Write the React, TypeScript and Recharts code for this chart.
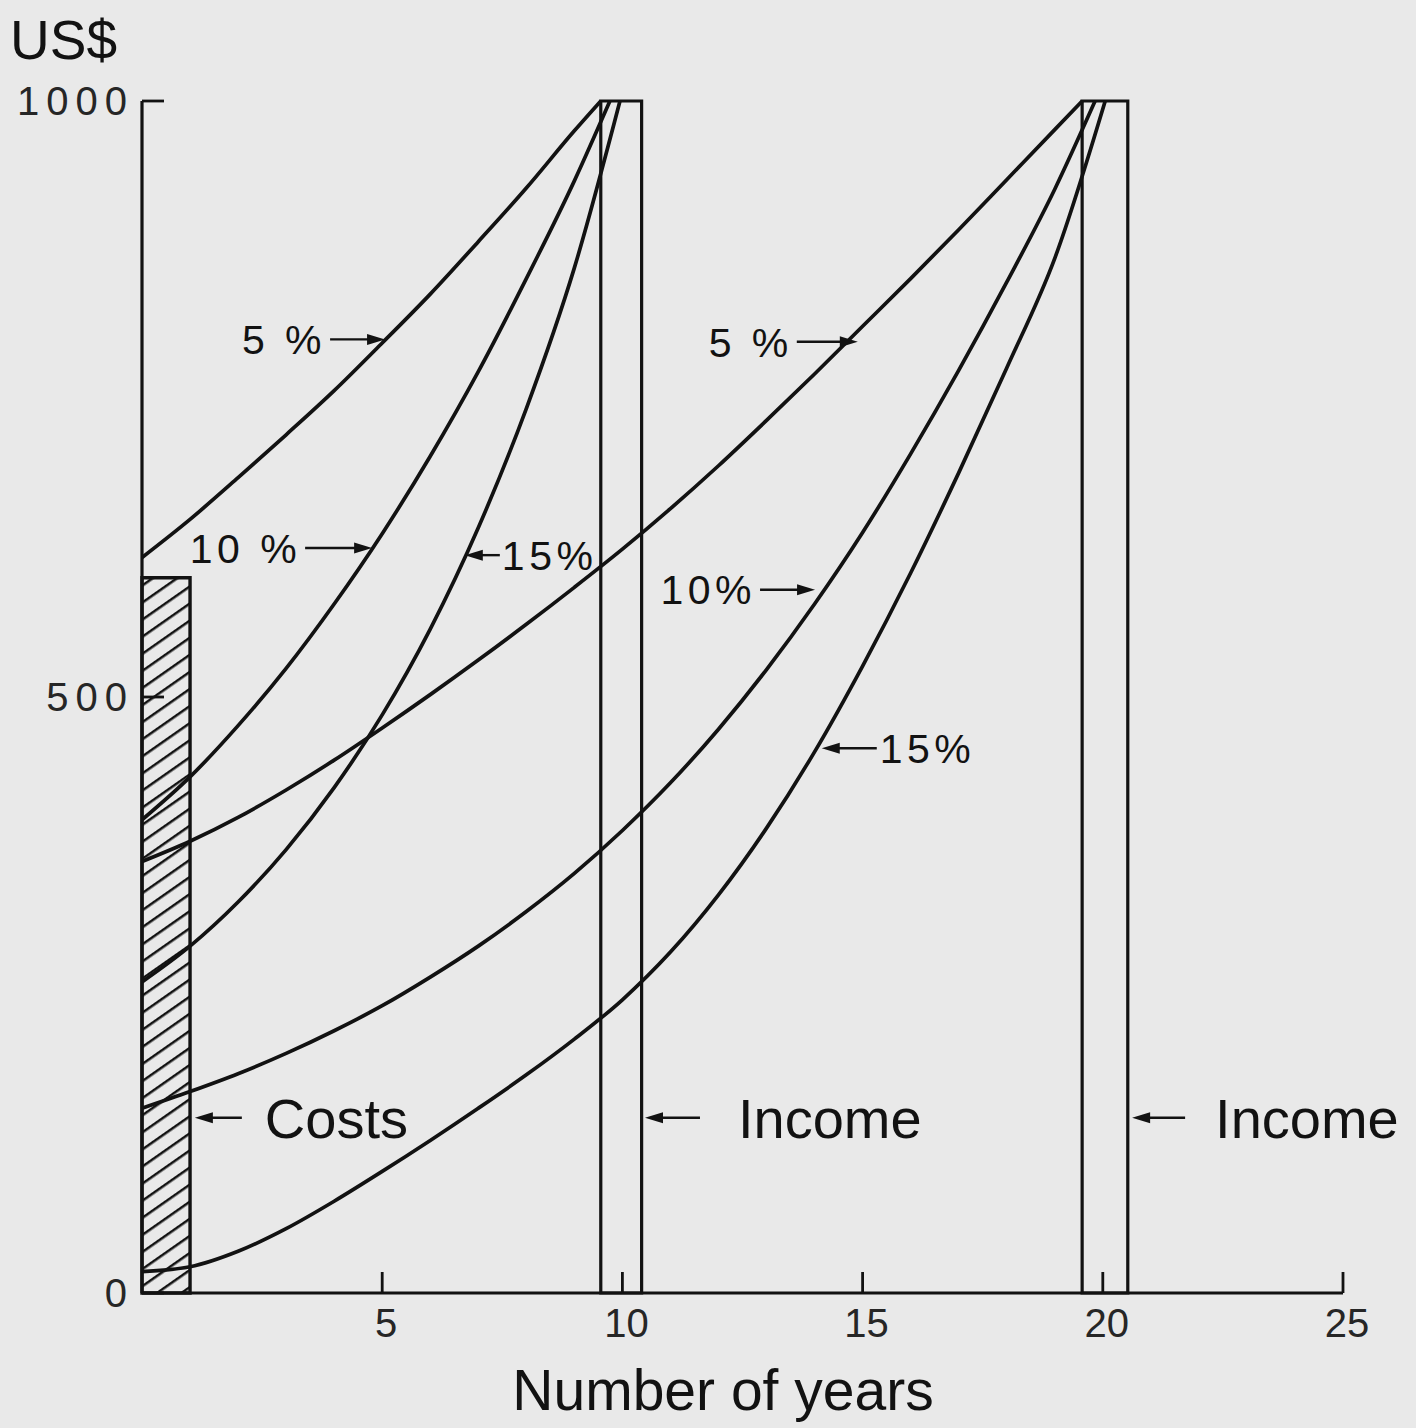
import { Line, LineChart, ReferenceArea, ReferenceDot, XAxis, YAxis } from "recharts";

const FONT = '"Liberation Sans", Arial, Helvetica, sans-serif';
const INK = "#121212";

// axis ticks
const xTicks = [5, 10, 15, 20, 25];
const yTicks = [0, 500, 1000];

// value of 1000 received after ~10 years
const years10at5 = [0, 1, 2, 3, 4, 5, 6, 7, 8, 9, 9.55];
const value10at5 = [617, 649, 684, 720, 757, 797, 838, 882, 927, 975, 1000];
const years10at10 = [0, 1, 2, 3, 4, 5, 6, 7, 8, 9, 9.74];
const value10at10 = [397, 433, 476, 524, 578, 637, 702, 773, 851, 933, 1000];
const years10at15 = [0, 1, 2, 3, 4, 5, 6, 7, 8, 9, 9.95];
const value10at15 = [261, 291, 328, 372, 424, 485, 557, 642, 742, 860, 1000];

// value of 1000 received after ~20 years
const years20at5 = [0, 1, 2, 3, 4, 5, 6, 7, 8, 9, 10, 11, 12, 13, 14, 15, 16, 17, 18, 19, 19.57];
const value20at5 = [362, 379, 399, 422, 447, 474, 502, 531, 561, 592, 624, 658, 694, 732, 771, 811, 851, 892, 934, 976, 1000];
const years20at10 = [0, 1, 2, 3, 4, 5, 6, 7, 8, 9, 10, 11, 12, 13, 14, 15, 16, 17, 18, 19, 19.84];
const value20at10 = [155, 169, 184, 201, 220, 241, 265, 291, 320, 352, 388, 428, 473, 523, 578, 638, 704, 774, 848, 926, 1000];
const years20at15 = [0, 1, 2, 3, 4, 5, 6, 7, 8, 9, 10, 11, 12, 13, 14, 15, 16, 17, 18, 19, 20.05];
const value20at15 = [18, 22, 35, 54, 77, 102, 128, 155, 183, 213, 246, 286, 334, 390, 454, 526, 604, 688, 776, 868, 1000];

// bars: costs and the two incomes
const costsSpan = [0, 1];
const costsValue = 600;
const incomeSpans = [
  [9.55, 10.4],
  [19.57, 20.52],
];
const incomeValue = 1000;

// annotations (text, year and value the arrow points at)
const noteText = ["5 %", "10 %", "15%", "5 %", "10%", "15%", "Costs", "Income", "Income"];
const noteYear = [5.06, 4.79, 6.72, 14.9, 14.01, 14.15, 1.1, 10.47, 20.61];
const noteValue = [800, 625, 619, 798, 590, 457, 147, 147, 147];

const toPoints = (xs: number[], ys: number[]) => xs.map((x, i) => ({ x, v: ys[i] }));

const series = [
  toPoints(years10at5, value10at5),
  toPoints(years10at10, value10at10),
  toPoints(years10at15, value10at15),
  toPoints(years20at5, value20at5),
  toPoints(years20at10, value20at10),
  toPoints(years20at15, value20at15),
];

// arrow direction / lengths per note (drawing only)
const noteStyle = [
  { dir: "right", len: 55, gap: 4, size: 41 },
  { dir: "right", len: 67, gap: 4, size: 41 },
  { dir: "left", len: 35, gap: 2, size: 41 },
  { dir: "right", len: 61, gap: 4, size: 41 },
  { dir: "right", len: 55, gap: 4, size: 41 },
  { dir: "left", len: 55, gap: 3, size: 41 },
  { dir: "left", len: 47, gap: 23, size: 56 },
  { dir: "left", len: 55, gap: 38, size: 56 },
  { dir: "left", len: 53, gap: 30, size: 56 },
];

function note(i: number) {
  const st = noteStyle[i];
  return (props: any) => {
    const { cx, cy } = props;
    const s = st.dir === "right" ? -1 : 1;
    const tail = cx + s * st.len;
    const big = st.size > 45;
    return (
      <g>
        <line x1={cx + s * 12} y1={cy} x2={tail} y2={cy} stroke={INK} strokeWidth={2.4} />
        <polygon
          points={`${cx},${cy} ${cx + s * 18},${cy - 5.5} ${cx + s * 18},${cy + 5.5}`}
          fill={INK}
        />
        <text
          x={tail + s * st.gap}
          y={cy + st.size * 0.36}
          textAnchor={st.dir === "right" ? "end" : "start"}
          fontFamily={FONT}
          fontSize={st.size}
          letterSpacing={big ? 0 : 4.5}
          fill={INK}
        >
          {noteText[i]}
        </text>
      </g>
    );
  };
}

const XTick = (props: any) => {
  const { x, y, payload } = props;
  return (
    <g>
      <line x1={x} y1={y} x2={x} y2={y - 21} stroke={INK} strokeWidth={2.8} />
      <text x={x + 4} y={y + 44} textAnchor="middle" fontFamily={FONT} fontSize={40} fill="#262626">
        {payload.value}
      </text>
    </g>
  );
};

const YTick = (props: any) => {
  const { x, y, payload } = props;
  return (
    <g>
      <line x1={x} y1={y} x2={x + 22} y2={y} stroke={INK} strokeWidth={2.8} />
      <text
        x={x - 8}
        y={y + 14}
        textAnchor="end"
        fontFamily={FONT}
        fontSize={40}
        letterSpacing={7}
        fill="#262626"
      >
        {payload.value}
      </text>
    </g>
  );
};

export default function App() {
  return (
    <div
      style={{
        position: "absolute",
        left: 0,
        top: 0,
        width: 1416,
        height: 1428,
        background: "#e9e9e9",
      }}
    >
      <LineChart width={1416} height={1428} margin={{ top: 101, right: 73, bottom: 35, left: 12 }}>
        <defs>
          <pattern
            id="hatch"
            patternUnits="userSpaceOnUse"
            width={14}
            height={14}
            patternTransform="rotate(55)"
          >
            <line x1={1} y1={0} x2={1} y2={14} stroke={INK} strokeWidth={3} />
          </pattern>
        </defs>
        <XAxis
          type="number"
          dataKey="x"
          domain={[0, 25]}
          ticks={xTicks}
          height={100}
          axisLine={{ stroke: INK, strokeWidth: 3.2 }}
          tickLine={false}
          tickSize={0}
          tickMargin={0}
          tick={XTick}
          label={{
            content: () => (
              <text x={723} y={1410} textAnchor="middle" fontFamily={FONT} fontSize={57} fill={INK}>
                Number of years
              </text>
            ),
          }}
        />
        <YAxis
          type="number"
          domain={[0, 1000]}
          ticks={yTicks}
          width={130}
          axisLine={{ stroke: INK, strokeWidth: 3.2 }}
          tickLine={false}
          tickSize={0}
          tickMargin={0}
          tick={YTick}
          label={{
            content: () => (
              <text x={10} y={59} fontFamily={FONT} fontSize={55} fill={INK}>
                US$
              </text>
            ),
          }}
        />
        <ReferenceArea
          x1={costsSpan[0]}
          x2={costsSpan[1]}
          y1={0}
          y2={costsValue}
          fill="url(#hatch)"
          fillOpacity={1}
          stroke={INK}
          strokeWidth={3.4}
          ifOverflow="visible"
        />
        {incomeSpans.map((span, i) => (
          <ReferenceArea
            key={i}
            x1={span[0]}
            x2={span[1]}
            y1={0}
            y2={incomeValue}
            fill="none"
            fillOpacity={0}
            stroke={INK}
            strokeWidth={3.2}
            ifOverflow="visible"
          />
        ))}
        {series.map((d, i) => (
          <Line
            key={i}
            data={d}
            dataKey="v"
            type="monotone"
            stroke={INK}
            strokeWidth={3.7}
            dot={false}
            activeDot={false}
            isAnimationActive={false}
          />
        ))}
        {noteText.map((t, i) => (
          <ReferenceDot
            key={t + i}
            x={noteYear[i]}
            y={noteValue[i]}
            r={0}
            ifOverflow="visible"
            shape={note(i)}
          />
        ))}
      </LineChart>
    </div>
  );
}
